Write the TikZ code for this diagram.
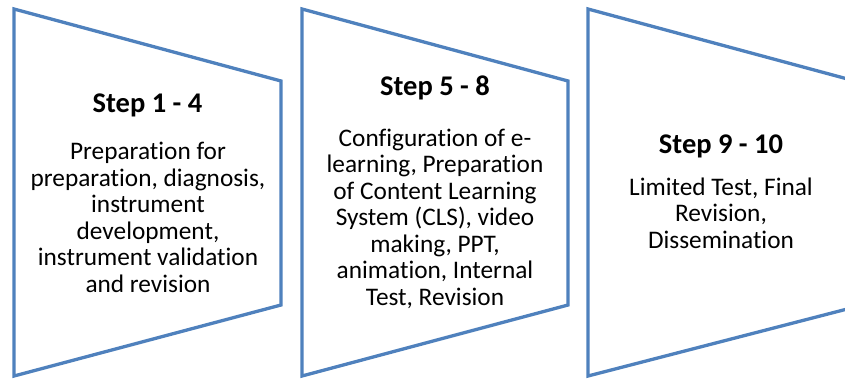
\documentclass[tikz,border=0pt]{standalone}
\usepackage{fontspec}
\setmainfont{Carlito}[Ligatures=NoCommon]
\definecolor{stepblue}{HTML}{4F81BD}
\tikzset{
  stepshape/.style={draw=stepblue, line width=3.3pt, line join=miter, fill=white},
  steptitle/.style={anchor=base, inner sep=0pt, font=\fontsize{28.5}{30}\selectfont\bfseries},
  % multi-line body text: the base anchor sits on the last line's baseline
  stepbody/.style={anchor=base, inner sep=0pt, align=center, font=\fontsize{25.3}{26.5}\selectfont},
}
\begin{document}
\begin{tikzpicture}[x=1pt, y=-1pt]
  \path[use as bounding box, clip] (0,0) rectangle (845,380);
  % three trapezoid panels, the last one running off the right edge
  \draw[stepshape] (14,9) coordinate (a1) -- (281,81) -- (281,305) -- (14,376) -- cycle;
  \draw[stepshape] (302,9) coordinate (a2) -- (568,81) -- (568,305) -- (302,376) -- cycle;
  \draw[stepshape] (588,9) coordinate (a3) -- (855,81) -- (855,307) -- (588,376) -- cycle;

  \node[steptitle] (t1) at (147.5,112) {Step 1 - 4};
  \node[stepbody] (b1) at (148,292) {Preparation for\\preparation, diagnosis,\\instrument\\development,\\instrument validation\\and revision};

  \node[steptitle] (t2) at (435,95) {Step 5 - 8};
  \node[stepbody] (b2) at (435,305) {Configuration of e-\\learning, Preparation\\of Content Learning\\System (CLS), video\\making, PPT,\\animation, Internal\\Test, Revision};

  \node[steptitle] (t3) at (721,153) {Step 9 - 10};
  \node[stepbody] (b3) at (721,248) {Limited Test, Final\\Revision,\\Dissemination};
\end{tikzpicture}
\end{document}
